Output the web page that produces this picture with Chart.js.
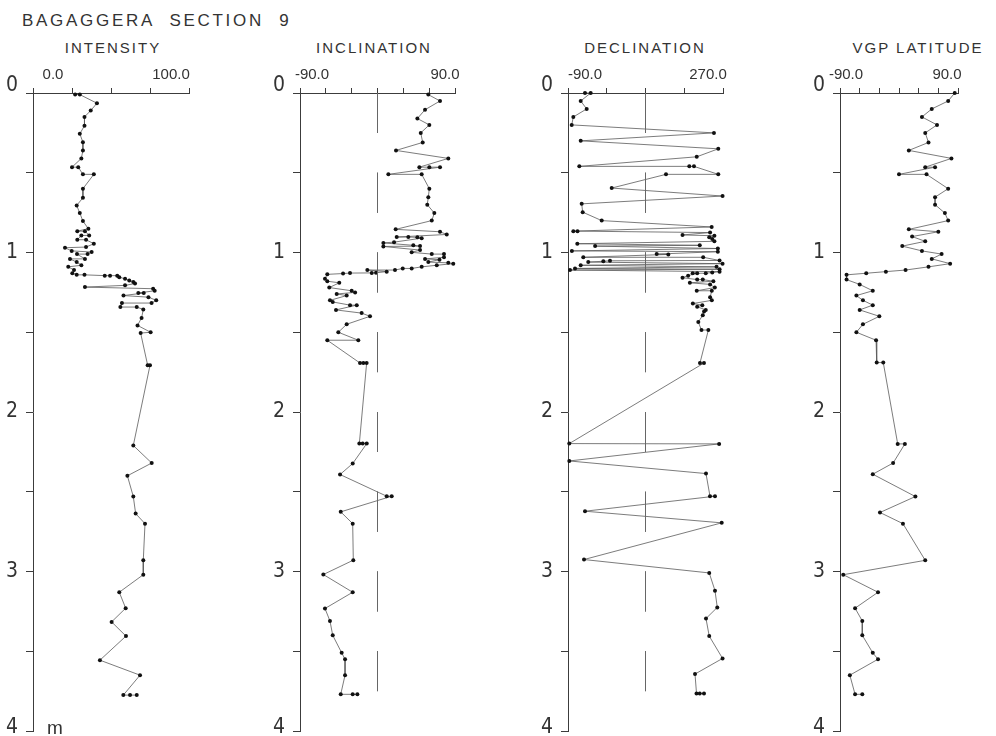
<!DOCTYPE html>
<html><head><meta charset="utf-8">
<script src="https://cdn.jsdelivr.net/npm/chart.js@4/dist/chart.umd.min.js"></script>
<style>
html,body{margin:0;padding:0;background:#fff;}
body{width:996px;height:736px;position:relative;overflow:hidden;font-family:"Liberation Sans",Arial,sans-serif;color:#333;}
canvas{position:absolute;top:0;}
.t{position:absolute;white-space:nowrap;color:#333;}
#main{left:22px;top:11px;font-size:17px;letter-spacing:2.7px;word-spacing:8px;}
.pt{top:39px;font-size:15px;letter-spacing:2px;text-align:center;width:200px;}
</style></head>
<body>
<div class="t" id="main">BAGAGGERA SECTION 9</div>
<div class="t pt" style="left:13px">INTENSITY</div>
<div class="t pt" style="left:274px">INCLINATION</div>
<div class="t pt" style="left:545px">DECLINATION</div>
<div class="t pt" style="left:818px">VGP LATITUDE</div>
<canvas id="c1" width="200" height="736" style="left:0px;width:200px;height:736px"></canvas>
<canvas id="c2" width="215" height="736" style="left:245px;width:215px;height:736px"></canvas>
<canvas id="c3" width="215" height="736" style="left:515px;width:215px;height:736px"></canvas>
<canvas id="c4" width="211" height="736" style="left:785px;width:211px;height:736px"></canvas>
<script>
// ---- depth axis ----
const depthTicks = [0, 1, 2, 3, 4];
const depthTickLabels = ['0', '1', '2', '3', '4'];
const centerDashStarts = [0, 0.5, 1, 1.5, 2, 2.5, 3, 3.5];

// ---- INTENSITY ----
const intensityDepth = [0.01,0.01,0.064,0.11,0.15,0.205,0.256,0.308,0.36,0.41,0.465,0.465,0.51,0.51,0.60,0.657,0.705,0.753,0.803,0.851,0.866,0.866,0.893,0.893,0.92,0.92,0.945,0.966,0.97,0.99,0.997,1.01,1.01,1.04,1.04,1.06,1.08,1.09,1.11,1.13,1.14,1.14,1.145,1.145,1.145,1.155,1.165,1.175,1.185,1.195,1.206,1.217,1.227,1.24,1.254,1.254,1.27,1.28,1.30,1.317,1.317,1.342,1.342,1.357,1.41,1.457,1.50,1.505,1.707,1.707,2.21,2.32,2.40,2.53,2.637,2.70,2.93,3.02,3.13,3.23,3.316,3.405,3.556,3.65,3.775,3.775,3.775];
const intensityValue = [27,30,41,37,33,33,30,32,32,31,25,29,32,39,32,32,28,30,32,35.5,28.4,33.3,36,31,28.4,34,39,34,20.5,24.8,37.6,35,28.2,33.3,23.7,28,31,22.6,26.3,25.2,28,33,46,49.4,54,55.3,59,61.7,64.3,65.4,59,33.3,77,78,67.5,71,58,74,79,76,57,56,66.5,70.7,69.6,67,75.4,69,73.5,75,64.3,76.1,60.5,64.3,65.8,71.8,70.7,70.7,55.3,59.4,50.4,59.6,42.9,68.6,57.9,62.2,66.5];
const intensityAxisLabels = ['0.0', '100.0'];

// ---- INCLINATION ----
const inclinationDepth = [0.01,0.05,0.105,0.16,0.20,0.25,0.31,0.36,0.41,0.465,0.465,0.465,0.51,0.51,0.60,0.653,0.70,0.753,0.80,0.855,0.87,0.887,0.903,0.903,0.905,0.91,0.935,0.94,0.955,0.96,0.962,0.985,0.999,1.01,1.01,1.03,1.04,1.045,1.06,1.065,1.07,1.08,1.09,1.10,1.10,1.11,1.11,1.12,1.127,1.128,1.129,1.132,1.137,1.164,1.18,1.19,1.22,1.24,1.25,1.26,1.27,1.30,1.31,1.33,1.33,1.36,1.38,1.40,1.45,1.50,1.55,1.55,1.693,1.693,1.693,2.198,2.198,2.198,2.323,2.392,2.528,2.528,2.626,2.70,2.929,3.019,3.13,3.232,3.31,3.40,3.51,3.55,3.65,3.77,3.77,3.77];
const inclinationValue = [59,72.6,55.2,46.3,60.2,50.2,52.5,21.5,82.2,48.6,60.2,72.6,12.6,51.3,60.2,59,57.8,66,63,21.1,72.6,80.4,22.3,35.8,46.3,51.3,19.2,6.8,41.6,49.4,6.8,49.4,39.7,63,77.2,77.2,55.2,72,59,82.2,88,68.8,51.3,39.7,29.3,20.3,-11.8,10.7,-1.7,-6.7,-31.9,-40,-58.3,-61,-58.3,-44.4,-56,-30,-26,-47.4,-35.8,-55.2,-52,-31.9,-24.1,-48.2,-18.4,-8.7,-35.8,-45.5,-22.3,-58.3,-20.3,-16.4,-12.6,-21.1,-17.2,-12.5,-28.8,-43.5,10.7,16.5,-42.7,-28.8,-28.1,-62.9,-28.8,-61,-55.2,-52,-41.6,-37.7,-37.7,-42.7,-28.8,-23.4];
const inclinationAxisLabels = ['-90.0', '90.0'];

// ---- DECLINATION ----
const declinationDepth = [0.0,0.0,0.05,0.10,0.15,0.20,0.25,0.30,0.35,0.40,0.46,0.46,0.46,0.51,0.51,0.596,0.646,0.695,0.747,0.80,0.84,0.866,0.866,0.875,0.89,0.895,0.905,0.915,0.93,0.945,0.955,0.96,0.975,0.99,0.995,1.01,1.012,1.03,1.03,1.05,1.052,1.055,1.06,1.07,1.08,1.09,1.10,1.105,1.11,1.12,1.125,1.13,1.13,1.13,1.145,1.158,1.17,1.17,1.18,1.19,1.20,1.22,1.24,1.24,1.28,1.30,1.32,1.33,1.34,1.36,1.37,1.394,1.436,1.486,1.486,1.693,1.693,2.198,2.20,2.307,2.386,2.528,2.528,2.622,2.695,2.925,3.009,3.12,3.225,3.295,3.405,3.545,3.643,3.765,3.765,3.765];
const declinationValue = [-50.5,-37.3,-60.5,-46.6,-77.6,-81.4,249,-60.5,259,209,-63.7,191.7,202.6,259,137.6,11.5,269,-58.2,-55.9,-11.7,243.7,-77.6,-68,240,176,250,238,245,250,-68.4,216,-27,258,-81,258,116,143,-54.5,224,262,7.5,-8,-43,269,-60.5,255,-73.7,262,-85.4,262,245,230,199.6,210,189,176,210,223,247.6,193,240,251,209,244,240,244,200,222,210,230,226,223,212.6,220,236,216.5,225.8,-87,261,-87,230.5,239.8,251.4,-50.5,267,-52.8,238,251.4,256.7,230.5,238,269,205,208.5,216,225.8];
const declinationAxisLabels = ['-90.0', '270.0'];

// ---- VGP LATITUDE ----
const vgpDepth = [0.0,0.05,0.10,0.15,0.20,0.25,0.31,0.36,0.41,0.465,0.465,0.51,0.51,0.60,0.653,0.70,0.753,0.80,0.855,0.87,0.90,0.93,0.96,0.99,1.01,1.04,1.07,1.09,1.11,1.12,1.13,1.14,1.17,1.20,1.24,1.27,1.30,1.33,1.36,1.40,1.45,1.50,1.55,1.69,1.69,2.20,2.20,2.32,2.39,2.53,2.63,2.70,2.93,3.02,3.13,3.23,3.31,3.40,3.51,3.55,3.65,3.77,3.77];
const vgpValue = [85,75,50,35,58,40,45,15,80,40,55,0,42,75,55,55,70,75,15,60,20,40,5,35,65,50,78,45,10,-20,-50,-80,-80,-60,-40,-65,-55,-40,-60,-30,-55,-65,-35,-34,-24,-2,9,-9,-40,25,-29,6,40,-85,-32,-67,-56,-56,-40,-32,-75,-67,-56];
const vgpAxisLabels = ['-90.0', '90.0'];

const AXIS = '#3c3c3c';
const LABEL_FONT = '"Liberation Sans", Arial, sans-serif';
const DEPTH_FONT = '"Liberation Sans Narrow", "DejaVu Sans Condensed", "Liberation Sans", sans-serif';

function labelPlugin(cfg) {
  return {
    id: 'axisText',
    afterDraw(chart) {
      const ctx = chart.ctx, xs = chart.scales.x, ys = chart.scales.y;
      ctx.save();
      ctx.fillStyle = '#333';
      ctx.font = '15px ' + LABEL_FONT;
      ctx.textAlign = 'center';
      ctx.textBaseline = 'alphabetic';
      ctx.fillText(cfg.axisLabels[0], xs.getPixelForValue(cfg.min) + cfg.labelDx[0], 79);
      ctx.fillText(cfg.axisLabels[1], xs.getPixelForValue(cfg.max) + cfg.labelDx[1], 79);
      ctx.font = '21px ' + DEPTH_FONT;
      ctx.textAlign = 'right';
      ctx.textBaseline = 'middle';
      depthTicks.forEach((v, i) => {
        let y = ys.getPixelForValue(v);
        if (i === 0) y -= 7;
        if (i === depthTicks.length - 1) y -= 3;
        ctx.fillText(depthTickLabels[i], xs.left - 15, y);
      });
      if (cfg.unit) {
        ctx.textAlign = 'left';
        ctx.font = '19px ' + LABEL_FONT;
        ctx.fillText(cfg.unit, xs.left + 14, ys.getPixelForValue(4) - 2);
      }
      ctx.restore();
    }
  };
}

function makePanel(id, cfg) {
  const datasets = [];
  if (cfg.center !== undefined) {
    const c = [];
    centerDashStarts.forEach(s => {
      c.push({x: cfg.center, y: s}, {x: cfg.center, y: s + 0.25}, {x: cfg.center, y: null});
    });
    datasets.push({data: c, showLine: true, spanGaps: false, borderColor: '#666', borderWidth: 1, pointRadius: 0});
  }
  datasets.push({
    data: cfg.depth.map((d, i) => ({x: cfg.value[i], y: d})),
    showLine: true, borderColor: '#5a5a5a', borderWidth: 0.8,
    pointRadius: 2, pointBackgroundColor: '#111', pointBorderColor: '#111', pointBorderWidth: 0,
    clip: false
  });
  new Chart(document.getElementById(id), {
    type: 'scatter',
    data: {datasets},
    options: {
      responsive: false, animation: false, devicePixelRatio: 1,
      layout: {padding: {left: 0, top: 0, right: cfg.padRight, bottom: 5}},
      plugins: {legend: {display: false}, tooltip: {enabled: false}, title: {display: false}},
      scales: {
        x: {
          type: 'linear', position: 'top', min: cfg.min, max: cfg.max,
          ticks: {display: false, stepSize: cfg.step},
          grid: {drawOnChartArea: false, drawTicks: true, tickLength: 5, color: AXIS, lineWidth: 1},
          border: {display: true, color: AXIS, width: 1},
          afterFit: s => { s.height = 93; }
        },
        y: {
          type: 'linear', reverse: true, min: 0, max: 4,
          ticks: {display: false, stepSize: 0.5},
          grid: {drawOnChartArea: false, drawTicks: true, tickLength: 7, color: AXIS, lineWidth: 1},
          border: {display: true, color: AXIS, width: 1},
          afterFit: s => { s.width = cfg.axisLeft; }
        }
      }
    },
    plugins: [labelPlugin(cfg)]
  });
}

makePanel('c1', {depth: intensityDepth, value: intensityValue, min: 0, max: 100, step: 25,
  axisLabels: intensityAxisLabels, labelDx: [20, -18], axisLeft: 33, padRight: 11, unit: 'm'});
makePanel('c2', {depth: inclinationDepth, value: inclinationValue, min: -90, max: 90, step: 30, center: 0,
  axisLabels: inclinationAxisLabels, labelDx: [12, -10], axisLeft: 55, padRight: 5});
makePanel('c3', {depth: declinationDepth, value: declinationValue, min: -90, max: 270, step: 90, center: 90,
  axisLabels: declinationAxisLabels, labelDx: [17, -15], axisLeft: 53, padRight: 7});
makePanel('c4', {depth: vgpDepth, value: vgpValue, min: -90, max: 90, step: 30,
  axisLabels: vgpAxisLabels, labelDx: [6, -11], axisLeft: 55, padRight: 38});
</script>
</body></html>
